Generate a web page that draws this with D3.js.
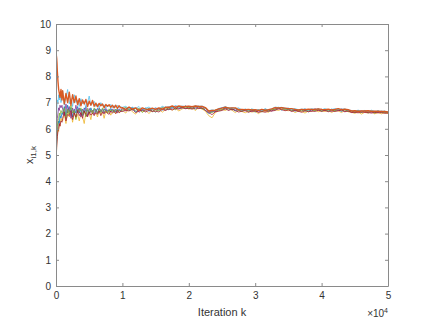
<!DOCTYPE html>
<html><head><meta charset="utf-8">
<script src="https://cdn.jsdelivr.net/npm/d3@7"></script>
<style>
html,body{margin:0;padding:0;background:#fff;}
svg{display:block;font-family:"Liberation Sans",Arial,sans-serif;}
</style></head>
<body><svg id="chart" width="429" height="322"></svg>
<script>
// iteration index (x values)
const iterK = [0,50,100,150,200,300,400,500,600,750,900,
1000,1250,1500,1750,2000,2250,2500,2750,3000,3250,
3500,3750,4000,4250,4500,4750,5000,5250,5500,5750,
6000,6250,6500,6750,7000,7250,7500,7750,8000,8250,
8500,8750,9000,9250,9500,9750,
10000,10500,11000,11500,12000,12500,13000,13500,14000,14500,
15000,15500,16000,16500,17000,17500,18000,18500,19000,19500,
20000,20500,21000,21500,22000,22500,23000,23500,24000,24500,
25000,25500,26000,26500,27000,27500,28000,28500,29000,29500,
30000,30500,31000,31500,32000,32500,33000,33500,34000,34500,
35000,35500,36000,36500,37000,37500,38000,38500,39000,39500,
40000,40500,41000,41500,42000,42500,43000,43500,44000,44500,
45000,45500,46000,46500,47000,47500,48000,48500,49000,49500,50000];

const seriesBlue = [3.9,5.2,5.5,5.7,5.9,6.1,6.3,6.2,6.5,6.4,6.6,
6.55,6.85,6.5,6.9,6.65,6.8,6.45,6.75,6.6,6.85,
6.6,6.75,6.5,6.8,6.65,6.72,6.55,6.8,6.62,6.75,
6.62,6.78,6.65,6.74,6.6,6.76,6.68,6.72,6.62,6.78,
6.66,6.74,6.64,6.76,6.68,6.72,
6.68,6.80,6.72,6.82,6.63,6.76,6.69,6.79,6.67,6.75,
6.63,6.79,6.71,6.83,6.72,6.82,6.75,6.85,6.77,6.88,
6.77,6.85,6.75,6.87,6.79,6.71,6.58,6.66,6.64,6.77,
6.73,6.82,6.72,6.78,6.68,6.75,6.68,6.75,6.65,6.71,
6.64,6.71,6.67,6.76,6.66,6.73,6.73,6.82,6.71,6.78,
6.73,6.77,6.67,6.72,6.67,6.77,6.65,6.73,6.71,6.76,
6.66,6.74,6.68,6.75,6.69,6.73,6.66,6.74,6.66,6.68,
6.62,6.70,6.63,6.69,6.60,6.67,6.61,6.69,6.61,6.67,6.61];

const seriesYellow = [0.3,4.9,5.3,5.6,5.8,6.0,5.9,6.2,6.1,6.4,6.3,
6.3,6.6,6.2,6.7,6.45,6.6,6.25,6.65,6.4,6.55,
6.3,6.6,6.45,6.2,6.65,6.5,6.6,6.35,6.7,6.55,
6.6,6.45,6.7,6.55,6.65,6.4,6.68,6.58,6.7,6.52,
6.64,6.7,6.58,6.72,6.6,6.68,
6.71,6.60,6.78,6.65,6.56,6.74,6.65,6.71,6.58,6.73,
6.65,6.76,6.63,6.74,6.80,6.71,6.78,6.68,6.76,6.82,
6.75,6.80,6.70,6.81,6.76,6.67,6.50,6.42,6.62,6.69,
6.74,6.70,6.77,6.71,6.62,6.71,6.66,6.61,6.67,6.64,
6.66,6.58,6.68,6.66,6.63,6.72,6.73,6.70,6.75,6.71,
6.69,6.71,6.62,6.68,6.66,6.60,6.68,6.66,6.71,6.65,
6.68,6.66,6.71,6.62,6.69,6.68,6.62,6.70,6.65,6.63,
6.59,6.64,6.56,6.63,6.60,6.65,6.57,6.62,6.57,6.62,6.58];

const seriesPurple = [5.4,5.6,5.9,6.2,6.4,6.6,6.8,6.7,6.9,6.8,6.9,
6.75,6.5,6.95,6.6,6.85,6.4,6.8,6.55,6.9,6.6,
6.8,6.45,6.75,6.6,6.85,6.5,6.78,6.62,6.7,6.55,
6.76,6.6,6.8,6.65,6.74,6.58,6.78,6.66,6.72,6.64,
6.76,6.66,6.74,6.6,6.75,6.68,
6.80,6.67,6.83,6.71,6.79,6.63,6.74,6.68,6.79,6.67,
6.79,6.71,6.80,6.71,6.82,6.78,6.86,6.77,6.82,6.77,
6.84,6.78,6.86,6.79,6.85,6.78,6.63,6.68,6.66,6.73,
6.81,6.76,6.80,6.72,6.76,6.69,6.74,6.69,6.72,6.66,
6.71,6.64,6.74,6.68,6.73,6.67,6.78,6.75,6.81,6.75,
6.78,6.68,6.73,6.66,6.74,6.69,6.73,6.67,6.77,6.70,
6.75,6.69,6.73,6.66,6.74,6.70,6.76,6.66,6.72,6.63,
6.68,6.64,6.69,6.65,6.68,6.62,6.66,6.62,6.67,6.62,6.64];

const seriesGreen = [1.6,5.3,5.6,5.9,6.1,6.3,6.4,6.6,6.5,6.7,6.6,
6.6,6.8,6.4,6.75,6.55,6.9,6.6,6.7,6.35,6.75,
6.65,6.8,6.55,6.7,6.45,6.78,6.6,6.72,6.58,6.8,
6.7,6.58,6.76,6.62,6.8,6.66,6.7,6.6,6.76,6.68,
6.72,6.62,6.75,6.68,6.7,6.65,
6.74,6.83,6.69,6.76,6.70,6.79,6.62,6.73,6.77,6.65,
6.74,6.68,6.83,6.76,6.75,6.85,6.73,6.83,6.84,6.79,
6.82,6.77,6.84,6.84,6.75,6.80,6.67,6.61,6.73,6.70,
6.72,6.79,6.81,6.73,6.79,6.70,6.66,6.73,6.68,6.75,
6.67,6.72,6.64,6.72,6.69,6.75,6.72,6.79,6.80,6.73,
6.76,6.69,6.75,6.69,6.72,6.67,6.71,6.74,6.69,6.74,
6.70,6.75,6.67,6.72,6.68,6.76,6.71,6.73,6.67,6.69,
6.63,6.68,6.62,6.69,6.64,6.68,6.60,6.66,6.65,6.61,6.63];

const seriesLightBlue = [9.5,6.3,6.6,6.9,7.1,7.0,7.3,7.1,7.4,7.0,7.2,
7.45,6.9,7.2,7.5,6.95,7.15,6.85,7.3,7.0,7.1,
6.85,7.15,6.95,7.05,6.8,7.0,7.25,6.9,6.95,7.05,
6.85,6.95,6.8,7.0,6.88,6.92,6.78,6.9,6.85,6.93,
6.8,6.88,6.82,6.9,6.78,6.84,
6.82,6.86,6.77,6.82,6.78,6.85,6.72,6.79,6.83,6.75,
6.80,6.76,6.86,6.81,6.85,6.81,6.89,6.84,6.87,6.84,
6.86,6.83,6.88,6.85,6.87,6.80,6.69,6.72,6.70,6.78,
6.80,6.85,6.79,6.81,6.77,6.80,6.72,6.75,6.70,6.76,
6.72,6.73,6.70,6.76,6.72,6.76,6.83,6.81,6.82,6.78,
6.79,6.73,6.77,6.73,6.75,6.74,6.71,6.77,6.74,6.76,
6.73,6.77,6.72,6.74,6.77,6.74,6.75,6.76,6.71,6.70,
6.68,6.71,6.67,6.70,6.66,6.71,6.67,6.67,6.67,6.67,6.64];

const seriesDarkRed = [2.4,5.0,5.3,5.5,5.7,5.9,6.0,6.2,6.1,6.3,6.25,
6.4,6.65,6.3,6.55,6.5,6.7,6.35,6.6,6.45,6.7,
6.5,6.62,6.4,6.68,6.55,6.45,6.65,6.52,6.6,6.5,
6.62,6.55,6.68,6.5,6.64,6.58,6.66,6.6,6.55,6.68,
6.6,6.66,6.58,6.7,6.62,6.66,
6.66,6.71,6.68,6.75,6.62,6.68,6.72,6.64,6.71,6.66,
6.68,6.64,6.74,6.70,6.76,6.72,6.78,6.75,6.81,6.77,
6.78,6.75,6.80,6.77,6.79,6.70,6.62,6.54,6.65,6.67,
6.70,6.76,6.70,6.75,6.70,6.64,6.67,6.69,6.63,6.68,
6.68,6.63,6.66,6.63,6.68,6.68,6.70,6.77,6.73,6.69,
6.72,6.66,6.70,6.67,6.63,6.69,6.65,6.68,6.66,6.71,
6.67,6.70,6.65,6.69,6.66,6.69,6.71,6.65,6.68,6.62,
6.63,6.61,6.64,6.62,6.62,6.60,6.62,6.61,6.62,6.59,6.60];

const seriesOrange = [10.0,8.8,8.7,8.5,8.2,7.8,7.5,7.35,7.2,7.5,7.1,
7.45,6.95,7.35,7.0,7.4,6.9,7.3,7.0,7.25,6.92,
7.15,6.88,7.1,6.95,7.12,6.85,7.05,6.9,7.08,6.86,
6.98,6.84,6.97,6.88,6.95,6.8,6.93,6.86,6.92,6.82,
6.9,6.8,6.9,6.78,6.88,6.8,
6.81,6.73,6.83,6.75,6.80,6.70,6.80,6.75,6.74,6.79,
6.74,6.80,6.74,6.82,6.82,6.87,6.82,6.87,6.84,6.85,
6.86,6.84,6.87,6.85,6.85,6.81,6.68,6.70,6.71,6.76,
6.79,6.83,6.79,6.80,6.80,6.73,6.74,6.73,6.74,6.72,
6.73,6.70,6.74,6.71,6.73,6.76,6.81,6.80,6.81,6.79,
6.77,6.77,6.74,6.72,6.74,6.73,6.75,6.74,6.74,6.76,
6.74,6.73,6.75,6.72,6.74,6.77,6.73,6.75,6.73,6.68,
6.69,6.67,6.68,6.68,6.69,6.67,6.67,6.67,6.66,6.66,6.64];

const seriesColors = ["#0072BD","#EDB120","#7E2F8E","#77AC30","#4DBEEE","#A2142F","#D95319"];
const seriesData = [seriesBlue,seriesYellow,seriesPurple,seriesGreen,seriesLightBlue,seriesDarkRed,seriesOrange];

const xTicks = [0,10000,20000,30000,40000,50000];
const xTickLabels = ["0","1","2","3","4","5"];
const yTicks = [0,1,2,3,4,5,6,7,8,9,10];

const svg = d3.select("#chart");
const L = 56, R = 388, T = 24, B = 286;
const x = d3.scaleLinear().domain([0,50000]).range([L,R]);
const y = d3.scaleLinear().domain([0,10]).range([B,T]);

svg.append("defs").append("clipPath").attr("id","clip")
  .append("rect").attr("x",L).attr("y",T).attr("width",R-L).attr("height",B-T);

const line = d3.line().x((d,i)=>x(iterK[i])).y(d=>y(d));
const lines = svg.append("g").attr("clip-path","url(#clip)");
seriesData.forEach((s,j)=>{
  const n = Math.min(s.length, iterK.length);
  lines.append("path")
    .datum(s.slice(0,n))
    .attr("fill","none")
    .attr("stroke",seriesColors[j])
    .attr("stroke-width", j===6 ? 1.4 : 1.0)
    .attr("stroke-opacity", j===6 ? 0.95 : 0.75)
    .attr("stroke-linejoin","round")
    .attr("d",line);
});

const axisColor = "#8a8a8a", textColor = "#333";
const gx = svg.append("g").attr("transform",`translate(0,${B})`)
  .call(d3.axisBottom(x).tickValues(xTicks).tickFormat((d,i)=>xTickLabels[i]).tickSizeInner(-3).tickSizeOuter(0).tickPadding(6));
const gxTop = svg.append("g").attr("transform",`translate(0,${T})`)
  .call(d3.axisTop(x).tickValues(xTicks).tickFormat("").tickSizeInner(-3).tickSizeOuter(0));
const gy = svg.append("g").attr("transform",`translate(${L},0)`)
  .call(d3.axisLeft(y).tickValues(yTicks).tickFormat(d3.format("d")).tickSizeInner(-3).tickSizeOuter(0).tickPadding(5));
const gyR = svg.append("g").attr("transform",`translate(${R},0)`)
  .call(d3.axisRight(y).tickValues(yTicks).tickFormat("").tickSizeInner(-3).tickSizeOuter(0));
[gx,gxTop,gy,gyR].forEach(g=>{
  g.select(".domain").attr("stroke",axisColor).attr("stroke-width",1);
  g.selectAll(".tick line").attr("stroke",axisColor);
  g.selectAll("text").attr("fill",textColor).attr("font-size","10px").attr("font-family","Liberation Sans, Arial, sans-serif");
});

svg.append("text").attr("x",(L+R)/2).attr("y",316).attr("text-anchor","middle")
  .attr("font-size","11px").attr("fill",textColor).text("Iteration k");
const ex = svg.append("text").attr("x",R).attr("y",317).attr("text-anchor","end")
  .attr("font-size","10px").attr("fill",textColor);
ex.append("tspan").text("\u00d710");
ex.append("tspan").attr("dy",-4).attr("font-size","7px").text("4");
const yl = svg.append("text").attr("transform",`translate(33,${(T+B)/2}) rotate(-90)`)
  .attr("text-anchor","middle").attr("font-size","11px").attr("fill",textColor);
yl.append("tspan").text("x");
yl.append("tspan").attr("dy",3).attr("font-size","8px").text("i1,k");
</script></body></html>
